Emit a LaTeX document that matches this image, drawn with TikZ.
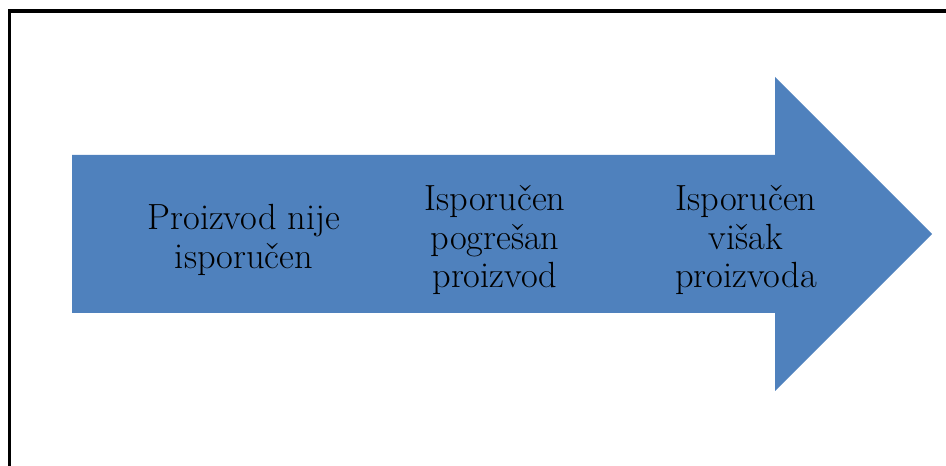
\documentclass[tikz,border=0pt]{standalone}
\usepackage{fontspec}
\setmainfont{Latin Modern Roman}
\definecolor{arrowblue}{HTML}{4F81BD}
\begin{document}
\begin{tikzpicture}[x=0.75pt,y=-0.75pt,
  lbl/.style={align=center,inner sep=0pt,font=\fontsize{27.3}{28.8}\selectfont},
  frameline/.style={line width=2.6pt,black}]
\useasboundingbox (0,0) rectangle (946,466);
\coordinate (ftr) at (946,11);
\coordinate (ftl) at (9.5,11);
\coordinate (fbl) at (9.5,466);
\draw[frameline] (ftr) -- (ftl) -- (fbl);
\fill[arrowblue] (72,155) -- (775,155) -- (775,77) -- (932,234) -- (775,391) -- (775,313) -- (72,313) -- cycle;
\node[lbl] (a) at (244,240) {Proizvod nije\\isporučen};
\node[lbl] (b) at (495,240) {Isporučen\\pogrešan\\proizvod};
\node[lbl] (c) at (746,240) {Isporučen\\višak\\proizvoda};
\end{tikzpicture}
\end{document}
